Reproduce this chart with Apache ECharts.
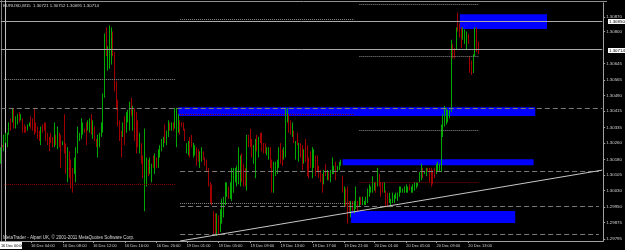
<!DOCTYPE html>
<html>
<head>
<meta charset="utf-8">
<script src="https://cdn.jsdelivr.net/npm/echarts@6/dist/echarts.min.js"></script>
<style>
html, body { margin: 0; padding: 0; background: #000; }
#chart { width: 625px; height: 250px; }
</style>
</head>
<body>
<div id="chart"></div>
<script>
var symbolTitle = 'EURUSD,M15  1.30721 1.30752 1.30691 1.30714';
var copyright = 'MetaTrader - Alpari UK, \u00a9 2001-2011 MetaQuotes Software Corp.';
var cursorTime = '16 Dec 00:00';

var timeLabels = ['16 Dec 04:00', '16 Dec 08:00', '16 Dec 12:00', '16 Dec 16:00', '16 Dec 20:00',
    '19 Dec 01:00', '19 Dec 05:00', '19 Dec 09:00', '19 Dec 13:00', '19 Dec 17:00',
    '19 Dec 21:00', '20 Dec 01:00', '20 Dec 05:00', '20 Dec 09:00', '20 Dec 13:00'];

var priceLabels = [1.29795, 1.29875, 1.29950, 1.30030, 1.30105, 1.30180, 1.30260, 1.30335,
    1.30415, 1.30490, 1.30565, 1.30645, 1.30800, 1.30870];

// M15 bars (high / low), 'u' = bull bar, 'd' = bear bar
var highs = [
    1.3024,1.3025,1.3030,1.3031,1.3031,1.3036,1.3038,1.3043,1.3043,1.3039,
    1.3040,1.3041,1.3040,1.3038,1.3035,1.3034,1.3035,1.3036,1.3039,1.3038,
    1.3043,1.3036,1.3034,1.3032,1.3034,1.3035,1.3036,1.3036,1.3031,1.3029,
    1.3031,1.3029,1.3036,1.3030,1.3034,1.3031,1.3030,1.3027,1.3040,1.3026,
    1.3024,1.3022,1.3018,1.3014,1.3019,1.3024,1.3034,1.3031,1.3038,1.3036,
    1.3033,1.3036,1.3037,1.3038,1.3040,1.3037,1.3034,1.3028,1.3030,1.3031,
    1.3036,1.3050,1.3079,1.3082,1.3073,1.3083,1.3082,1.3080,1.3070,1.3056,
    1.3047,1.3037,1.3032,1.3036,1.3039,1.3041,1.3042,1.3046,1.3048,1.3044,
    1.3043,1.3041,1.3037,1.3031,1.3026,1.3020,1.3033,1.3019,1.3018,1.3019,
    1.3016,1.3020,1.3021,1.3019,1.3023,1.3025,1.3028,1.3029,1.3035,1.3032,
    1.3037,1.3036,1.3036,1.3036,1.3043,1.3043,
    1.3040,1.3037,1.3036,1.3036,1.3033,1.3026,1.3027,1.3029,1.3030,1.3026,
    1.3025,1.3024,1.3023,1.3022,1.3024,1.3022,1.3019,1.3018,1.3014,1.3007,
    1.3006,1.2993,1.2992,1.2992,1.2991,1.2994,1.2999,1.3000,1.3007,1.3007,
    1.3005,1.3007,1.3014,1.3014,1.3014,1.3015,1.3024,1.3020,1.3021,1.3016,
    1.3014,1.3030,1.3030,1.3033,1.3028,1.3025,1.3028,1.3030,1.3029,1.3031,
    1.3031,1.3026,1.3026,1.3024,1.3024,1.3024,1.3018,1.3017,1.3017,1.3018,
    1.3024,1.3026,1.3023,1.3024,1.3043,1.3043,1.3040,1.3037,1.3036,1.3032,
    1.3027,1.3031,1.3026,1.3026,1.3025,1.3023,1.3028,1.3025,1.3019,1.3022,
    1.3024,1.3023,1.3020,1.3020,1.3015,1.3013,1.3011,1.3013,1.3016,1.3013,
    1.3012,1.3013,1.3019,1.3015,1.3017,1.3015,1.3017,1.3018,1.3010,1.3005,
    1.3004,1.3005,1.2998,1.2998,1.2998,1.2998,1.3005,1.2998,1.3000,1.3000,
    1.3000,1.2998,1.3000,1.3004,1.3006,1.3005,1.3010,1.3007,
    1.3007,1.3014,1.3011,1.3007,1.3007,1.3007,1.3003,1.3002,1.3002,1.2999,
    1.3002,1.3001,1.3002,1.3002,1.3005,1.3005,1.3004,1.3005,1.3006,1.3005,
    1.3006,1.3005,1.3006,1.3007,1.3007,1.3007,1.3012,1.3016,1.3014,1.3012,
    1.3014,1.3014,1.3014,1.3014,1.3013,1.3014,1.3016,1.3017,1.3016,1.3035,
    1.3040,1.3044,1.3043,1.3042,1.3042,1.3076,
    1.3074,1.3072,1.3082,1.3089,1.3084,1.3082,1.3082,1.3081,1.3080,1.3079,
    1.3068,1.3066,1.3069,1.3082,1.3082,1.30752
];
var lows = [
    1.3016,1.3024,1.3022,1.3026,1.3024,1.3030,1.3032,1.3036,1.3033,1.3033,
    1.3035,1.3036,1.3037,1.3031,1.3031,1.3031,1.3032,1.3034,1.3033,1.3032,
    1.3030,1.3031,1.3028,1.3027,1.3025,1.3031,1.3032,1.3027,1.3025,1.3022,
    1.3026,1.3024,1.3024,1.3025,1.3023,1.3024,1.3014,1.3025,1.3021,1.3011,
    1.3007,1.3009,1.3004,1.3002,1.3011,1.3007,1.3021,1.3027,1.3028,1.3030,
    1.3031,1.3025,1.3032,1.3031,1.3030,1.3028,1.3027,1.3024,1.3019,1.3024,
    1.3029,1.3031,1.3048,1.3068,1.3061,1.3062,1.3064,1.3068,1.3051,1.3042,
    1.3034,1.3027,1.3019,1.3029,1.3025,1.3031,1.3036,1.3032,1.3039,1.3032,
    1.3027,1.3021,1.3024,1.3021,1.3016,1.3009,1.2993,1.3005,1.3010,1.3011,
    1.3007,1.3014,1.3011,1.3014,1.3014,1.3019,1.3022,1.3024,1.3026,1.3025,
    1.3029,1.3032,1.3032,1.3032,1.3033,1.3024,
    1.3031,1.3030,1.3034,1.3032,1.3027,1.3021,1.3020,1.3019,1.3024,1.3019,
    1.3020,1.3015,1.3017,1.3014,1.3017,1.3018,1.3015,1.3012,1.3005,1.2997,
    1.2996,1.2982,1.2982,1.2981,1.2982,1.2983,1.2987,1.2990,1.2996,1.3000,
    1.2999,1.2999,1.2998,1.3002,1.3007,1.3005,1.3006,1.3005,1.3007,1.3005,
    1.3005,1.3003,1.3024,1.3024,1.3019,1.3016,1.3009,1.3022,1.3019,1.3026,
    1.3022,1.3021,1.3021,1.3020,1.3018,1.3014,1.3002,1.3002,1.3010,1.3011,
    1.3014,1.3016,1.3015,1.3018,1.3019,1.3036,1.3031,1.3030,1.3029,1.3026,
    1.3018,1.3025,1.3017,1.3019,1.3013,1.3016,1.3017,1.3010,1.3009,1.3014,
    1.3009,1.3014,1.3010,1.3012,1.3009,1.3007,1.3002,1.3006,1.3010,1.3008,
    1.3008,1.3007,1.3011,1.3011,1.3008,1.3012,1.3013,1.3015,1.3002,1.2995,
    1.2995,1.2987,1.2992,1.2990,1.2993,1.2992,1.2994,1.2993,1.2995,1.2996,
    1.2996,1.2996,1.2996,1.2997,1.3000,1.3002,1.3002,1.3003,
    1.3002,1.3005,1.3005,1.3000,1.3002,1.3002,1.2995,1.2995,1.2997,1.2995,
    1.2997,1.2997,1.2999,1.2998,1.3000,1.3002,1.3002,1.3002,1.3002,1.3002,
    1.3003,1.3002,1.3002,1.3003,1.3004,1.3005,1.3007,1.3008,1.3009,1.3011,
    1.3010,1.3012,1.3007,1.3005,1.3006,1.3009,1.3011,1.3012,1.3012,1.3012,
    1.3029,1.3034,1.3035,1.3036,1.3038,1.3041,
    1.3067,1.3067,1.3071,1.3080,1.3077,1.3072,1.3076,1.3074,1.3071,1.3074,
    1.3060,1.3059,1.3060,1.3068,1.3070,1.30691
];
var moves =
    'uduuuududu' + 'ududdduudd' + 'dddduddddd' + 'ddududdudd' + 'uddduuuuuu' +
    'dduududduu' + 'uuuduuuddd' + 'ddduduuudu' + 'dddudduudu' + 'ududuuuudu' +
    'ududuu' +
    'udddduuddu' + 'udduuddddd' + 'ddduduuuuu' + 'duuuuuuudd' + 'duddduudud' +
    'ddduudduuu' + 'udduuuddud' + 'ududdudddd' + 'uudddddudu' + 'duuuduuudu' +
    'ddduduudud' + 'uuuuuuuu' +
    'dudddudduu' + 'uuuuuuuuuu' + 'duuuuuuudu' + 'uddddduuuu' + 'uuuuuu' +
    'dduddduuud' + 'dduudd';

// supply / demand boxes: bar index range and price range
var zoneStart = [106, 274, 204, 209];
var zoneEnd = [319, 326, 318, 307];
var zoneTop = [1.30434, 1.30884, 1.30182, 1.29931];
var zoneBottom = [1.30391, 1.30812, 1.30153, 1.29873];

// horizontal levels: [fromBar, toBar, price]
var grayDotted = [[2, 104, 1.30570], [107, 211, 1.30860], [107, 211, 1.29969],
    [214, 285, 1.30930], [214, 285, 1.30681], [214, 285, 1.30323]];
var redDotted = [[2, 104, 1.30061], [107, 211, 1.30400], [214, 285, 1.30071]];
var grayDashed = [[107, 357, 1.30124], [107, 357, 1.29955], [107, 357, 1.29819], [0, 359, 1.30429]];
var priceLines = [1.30850, 1.30714];

// trend line anchors: [bar, price]
var trendFrom = [107, 1.29786];
var trendTo = [359, 1.30129];

var slotCount = 360;

var categories = [];
for (var i = 0; i < slotCount; i++) {
    categories.push(String(i));
}
var labelAt = {};
timeLabels.forEach(function (t, k) {
    labelAt[Math.round(18 + k * 18.65)] = t;
});

var candles = highs.map(function (h, i) {
    var l = lows[i];
    return moves.charAt(i) === 'u' ? [l, h, l, h] : [h, l, l, h];
});

function segments(list, color, dash) {
    return list.map(function (s) {
        return [
            { coord: [s[0], s[2]], lineStyle: { color: color, type: dash, width: 1 } },
            { coord: [s[1], s[2]] }
        ];
    });
}

var lineData = []
    .concat(segments(grayDotted, '#8c8c8c', [1, 1]))
    .concat(segments(redDotted, '#8a0000', [1, 1]))
    .concat(segments(grayDashed, '#7a7a7a', [5, 3]))
    .concat(segments(priceLines.map(function (p) { return [0, slotCount - 1, p]; }), '#a8a8a8', 'solid'))
    .concat([[
        { coord: trendFrom, lineStyle: { color: '#c8c8c8', type: 'solid', width: 1 } },
        { coord: trendTo }
    ]]);

var areaData = zoneStart.map(function (s, i) {
    return [
        { coord: [s, zoneTop[i]] },
        { coord: [zoneEnd[i], zoneBottom[i]] }
    ];
});

var myChart = echarts.init(document.getElementById('chart'), null, { renderer: 'canvas' });

var option = {
    backgroundColor: '#000',
    animation: false,
    grid: { left: 0, right: 18, top: 3, bottom: 9 },
    xAxis: {
        type: 'category',
        data: categories,
        boundaryGap: true,
        axisLine: { show: true, lineStyle: { color: '#a0a0a0', width: 1 } },
        axisTick: {
            show: true, alignWithLabel: true, length: 2,
            interval: function (idx) { return labelAt[idx] !== undefined; },
            lineStyle: { color: '#a0a0a0' }
        },
        axisLabel: {
            interval: function (idx) { return labelAt[idx] !== undefined; },
            formatter: function (v, idx) { return labelAt[idx] || ''; },
            align: 'left',
            margin: 3,
            color: '#d0d0d0',
            fontSize: 4,
            fontFamily: 'Liberation Sans'
        },
        splitLine: { show: false }
    },
    yAxis: {
        type: 'value',
        position: 'right',
        scale: true,
        min: 1.29786,
        max: 1.30938,
        axisLine: { show: true, lineStyle: { color: '#a0a0a0', width: 1 } },
        axisTick: { show: true, length: 2, customValues: priceLabels, lineStyle: { color: '#a0a0a0' } },
        axisLabel: {
            customValues: priceLabels,
            formatter: function (v) { return v.toFixed(5); },
            margin: 3,
            color: '#d0d0d0',
            fontSize: 4.4,
            fontFamily: 'Liberation Sans'
        },
        splitLine: { show: false }
    },
    series: [
        {
            type: 'candlestick',
            barWidth: 1,
            data: candles,
            itemStyle: {
                color: '#00a800',
                color0: '#a00000',
                borderColor: '#00a800',
                borderColor0: '#a00000',
                borderWidth: 1
            },
            markArea: {
                silent: true,
                itemStyle: { color: '#0000ff', opacity: 1 },
                data: areaData
            },
            markLine: {
                silent: true,
                symbol: ['none', 'none'],
                label: { show: false },
                data: lineData
            }
        }
    ],
    graphic: [
        { type: 'line', silent: true, shape: { x1: 0, y1: 1.5, x2: 607, y2: 1.5 }, style: { stroke: '#909090', lineWidth: 1 } },
        { type: 'line', silent: true, shape: { x1: 1.5, y1: 0, x2: 1.5, y2: 241 }, style: { stroke: '#808080', lineWidth: 1 } },
        { type: 'line', silent: true, shape: { x1: 5.5, y1: 0, x2: 5.5, y2: 241 }, style: { stroke: '#c0c0c0', lineWidth: 1 } },
        {
            type: 'text', silent: true, x: 3, y: 4,
            style: { text: symbolTitle, fill: '#d8d8d8', fontSize: 4.3, fontFamily: 'Liberation Sans' }
        },
        {
            type: 'text', silent: true, x: 3, y: 235,
            style: { text: copyright, fill: '#d8d8d8', fontSize: 4.5, fontFamily: 'Liberation Sans' }
        },
        { type: 'rect', silent: true, shape: { x: 0, y: 242, width: 22, height: 7 }, style: { fill: '#ffffff' } },
        {
            type: 'text', silent: true, x: 1, y: 243.5,
            style: { text: cursorTime, fill: '#000', fontSize: 3.8, fontFamily: 'Liberation Sans' }
        },
        {
            type: 'text', silent: true, x: 608, y: 19,
            style: { text: priceLines[0].toFixed(5), fill: '#000', backgroundColor: '#fff', padding: [1, 1, 0, 1], fontSize: 4.4, fontFamily: 'Liberation Sans' }
        },
        {
            type: 'text', silent: true, x: 608, y: 48,
            style: { text: priceLines[1].toFixed(5), fill: '#000', backgroundColor: '#fff', padding: [1, 1, 0, 1], fontSize: 4.4, fontFamily: 'Liberation Sans' }
        }
    ]
};

myChart.setOption(option);
</script>
</body>
</html>
